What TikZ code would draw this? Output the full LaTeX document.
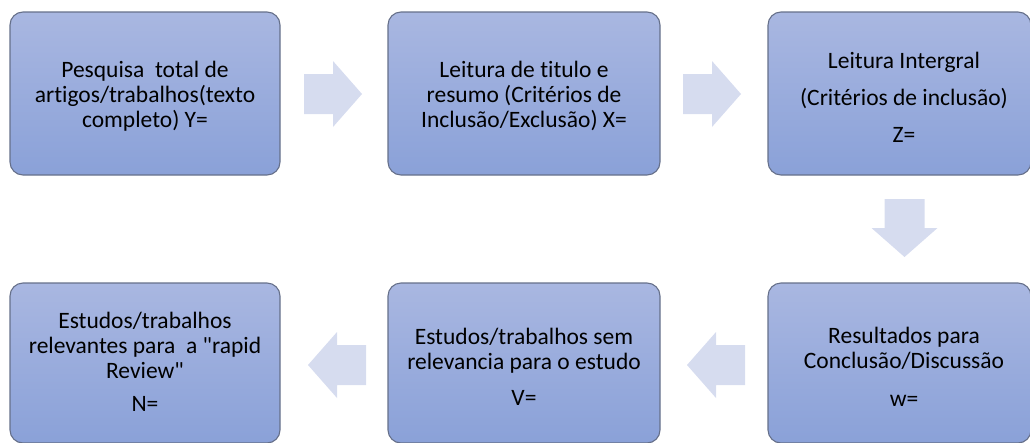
\documentclass[tikz,border=0pt]{standalone}
\usepackage{fontspec}
\newfontfamily\boxfont{Carlito}[Ligatures=NoCommon]
\definecolor{boxtop}{HTML}{A9B7E1}
\definecolor{boxbot}{HTML}{8AA1D8}
\definecolor{boxline}{HTML}{66708A}
\definecolor{arrowfill}{HTML}{D6DCEF}
\tikzset{
  stepbox/.style={draw=boxline, line width=1.1pt, rounded corners=13pt,
    top color=boxtop, bottom color=boxbot, inner sep=0pt},
  boxtext/.style={align=center, inner sep=0pt, text=black,
    font=\boxfont\fontsize{23.5}{25}\selectfont},
  pics/blockarrow/.style={code={
    \fill[arrowfill] (-29,-20) -- (0,-20) -- (0,-33) -- (29,0) -- (0,33)
      -- (0,20) -- (-29,20) -- cycle;}}
}
\begin{document}
\begin{tikzpicture}[x=1pt,y=-1pt]
\useasboundingbox (0,0) rectangle (1030,442);
\clip (0,0) rectangle (1030,442);
% boxes
\node[stepbox, minimum width=270pt, minimum height=163pt] (b1) at (145,93.5) {};
\node[stepbox, minimum width=272pt, minimum height=163pt] (b2) at (524,93.5) {};
\node[stepbox, minimum width=263pt, minimum height=163pt] (b3) at (899.5,93.5) {};
\node[stepbox, minimum width=270pt, minimum height=160pt] (b4) at (145,363) {};
\node[stepbox, minimum width=272pt, minimum height=160pt] (b5) at (524,363) {};
\node[stepbox, minimum width=263pt, minimum height=160pt] (b6) at (899.5,363) {};
% texts
\node[boxtext] (t1) at (145,96) {Pesquisa\ \ total de\\artigos/trabalhos(texto\\completo) Y=};
\node[boxtext] (t2) at (524,96) {Leitura de titulo e\\resumo (Critérios de\\Inclusão/Exclusão) X=};
\node[boxtext] (t3) at (904,97) {Leitura Intergral\\[12pt](Critérios de inclusão)\\[12pt]Z=};
\node[boxtext] (t4) at (145,362) {Estudos/trabalhos\\relevantes para\ \ a "rapid\\Review"\\[8pt]N=};
\node[boxtext] (t5) at (524,367) {Estudos/trabalhos sem\\relevancia para o estudo\\[11pt]V=};
\node[boxtext] (t6) at (904,367) {Resultados para\\Conclusão/Discussão\\[13pt]w=};
% block arrows
\coordinate (a1) at (333,94);
\coordinate (a2) at (712,94);
\coordinate (a3) at (904.5,228);
\coordinate (a4) at (337,365);
\coordinate (a5) at (716,365);
\pic at (a1) {blockarrow};
\pic at (a2) {blockarrow};
\pic[rotate=-90] at (a3) {blockarrow};
\pic[rotate=180] at (a4) {blockarrow};
\pic[rotate=180] at (a5) {blockarrow};
\end{tikzpicture}
\end{document}
